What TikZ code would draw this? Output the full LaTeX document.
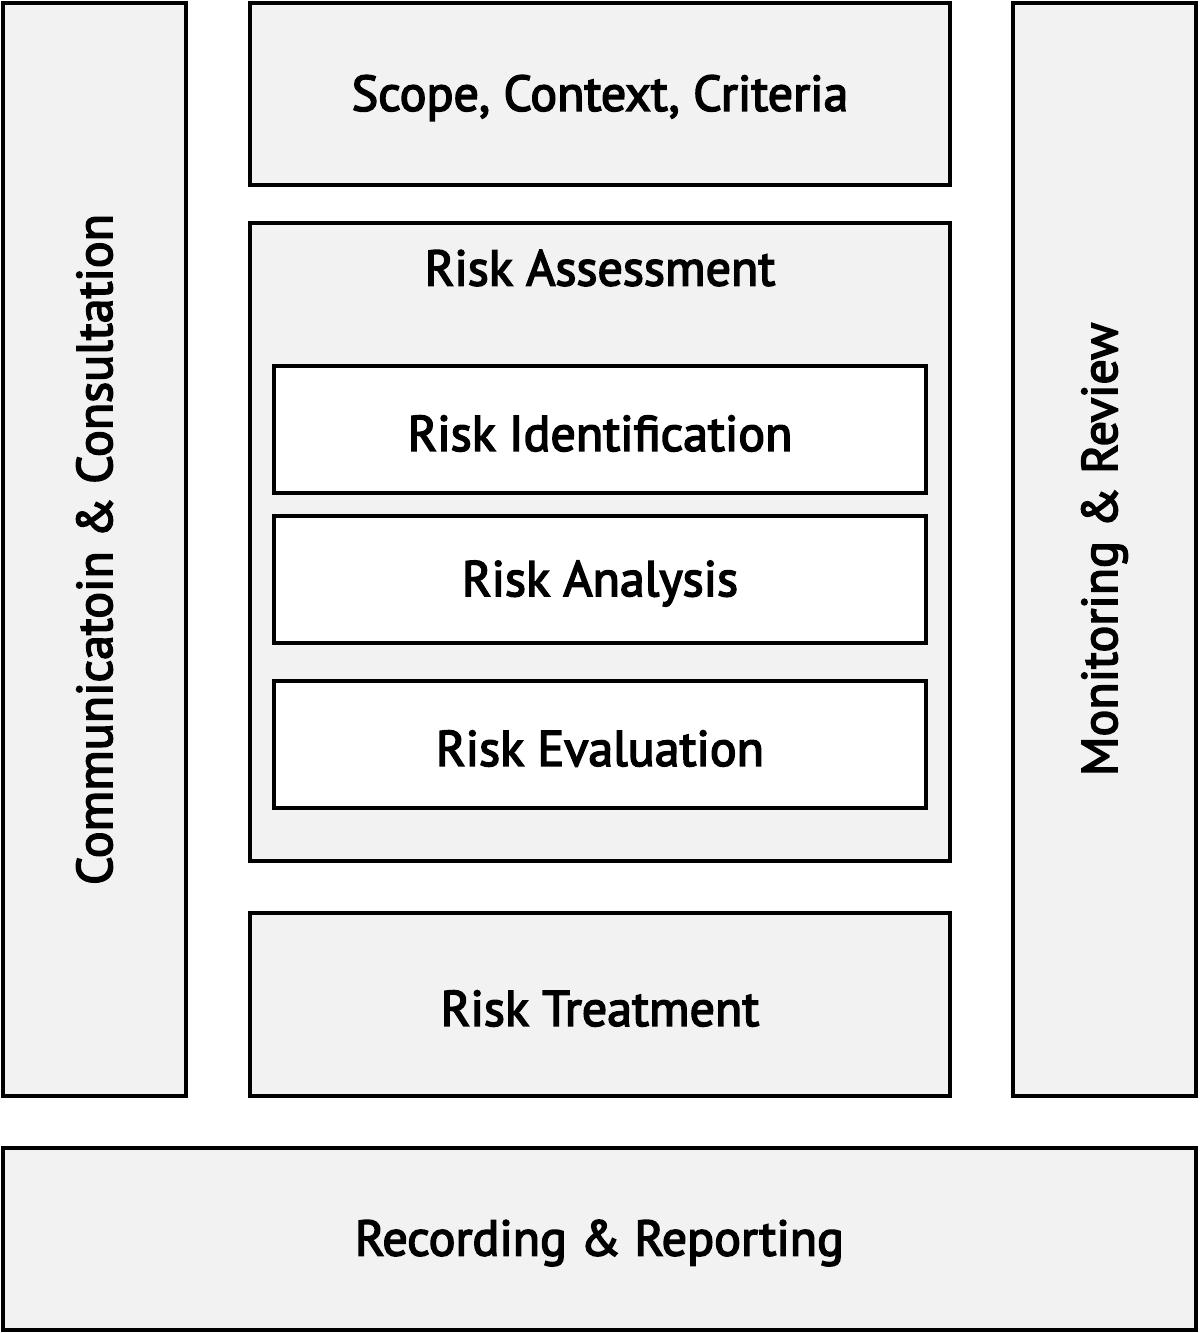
\documentclass[tikz,border=0pt]{standalone}
\usepackage{fontspec}
\setmainfont{PT Sans}
\newcommand{\heavytext}[1]{\special{pdf:literal direct 2 Tr 1.6 w}#1\special{pdf:literal direct 0 Tr}}
\begin{document}
\begin{tikzpicture}[x=1pt,y=-1pt,
  panel/.style={draw=black,line width=3.5pt,fill=panelgray},
  inner/.style={draw=black,line width=3.5pt,fill=white},
  lbl/.style={font=\fontsize{50}{60}\selectfont,text=black,inner sep=0pt},
  hlbl/.style={lbl,yshift=-4pt}]
\definecolor{panelgray}{HTML}{F2F2F2}
\useasboundingbox (0,0) rectangle (1200,1333);
% boxes
\draw[panel] (3,3) rectangle (186,1096) node[midway,lbl,rotate=90] (comm) {\heavytext{Communicatoin \& Consultation}};
\draw[panel] (250,3) rectangle (950,185) node[midway,hlbl] (scope) {\heavytext{Scope, Context, Criteria}};
\draw[panel] (250,223) rectangle (950,861);
\node[lbl] (assess) at (600,268) {\heavytext{Risk Assessment}};
\draw[inner] (274,366) rectangle (926,493) node[midway,hlbl] (ident) {\heavytext{Risk Identification}};
\draw[inner] (274,516) rectangle (926,643) node[midway,hlbl] (anal) {\heavytext{Risk Analysis}};
\draw[inner] (274,681) rectangle (926,808) node[midway,hlbl] (eval) {\heavytext{Risk Evaluation}};
\draw[panel] (250,913) rectangle (950,1096) node[midway,hlbl] (treat) {\heavytext{Risk Treatment}};
\draw[panel] (1013,3) rectangle (1196,1096) node[midway,lbl,rotate=90] (mon) {\heavytext{Monitoring \& Review}};
\draw[panel] (3,1148) rectangle (1196,1330) node[midway,hlbl] (rec) {\heavytext{Recording \& Reporting}};
\end{tikzpicture}
\end{document}
